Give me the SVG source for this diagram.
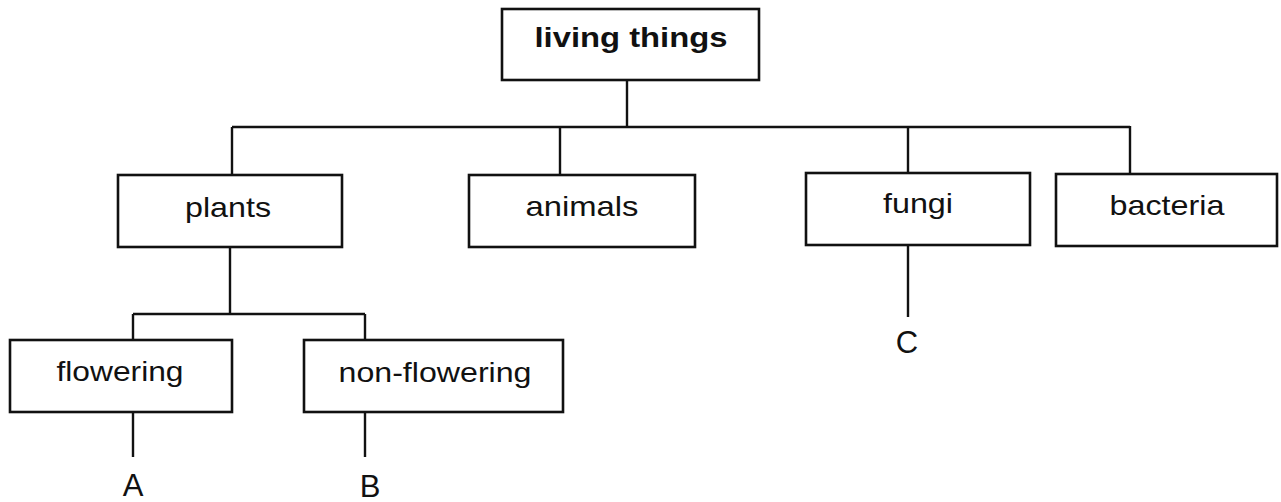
<svg xmlns="http://www.w3.org/2000/svg" width="1281" height="502" viewBox="0 0 1281 502">
<style>
.box{fill:#fff;stroke:#111;stroke-width:2.6}
.ln{fill:none;stroke:#111;stroke-width:2.4}
.t{font-family:"Liberation Sans",Arial,sans-serif;font-size:28px;fill:#111;text-anchor:middle}
.b{font-weight:bold}
.L{font-family:"Liberation Sans",Arial,sans-serif;font-size:31px;fill:#111;text-anchor:middle}
</style>
<rect width="1281" height="502" fill="#fff"/>
<g id="connectors">
<path class="ln" d="M627,80 V126 M232,127 H1130 M232,127 V175 M560,127 V175 M908,126 V173 M1130,126 V174"/>
<path class="ln" d="M230,247 V314 M133,314 H365 M133,314 V340 M365,314 V340"/>
<path class="ln" d="M133,412 V457 M365,412 V457 M908,245 V317"/>
</g>
<g id="living-things">
<rect class="box" x="502" y="9" width="257" height="71"/>
<text class="t b" x="631" y="47" textLength="193" lengthAdjust="spacingAndGlyphs">living things</text>
</g>
<g id="plants">
<rect class="box" x="118" y="175" width="224" height="72"/>
<text class="t" x="228" y="217" textLength="86" lengthAdjust="spacingAndGlyphs">plants</text>
</g>
<g id="animals">
<rect class="box" x="469" y="175" width="226" height="72"/>
<text class="t" x="582" y="216" textLength="113" lengthAdjust="spacingAndGlyphs">animals</text>
</g>
<g id="fungi">
<rect class="box" x="806" y="173" width="224" height="72"/>
<text class="t" x="918" y="213" textLength="70" lengthAdjust="spacingAndGlyphs">fungi</text>
</g>
<g id="bacteria">
<rect class="box" x="1056" y="174" width="221" height="72"/>
<text class="t" x="1167" y="215" textLength="115" lengthAdjust="spacingAndGlyphs">bacteria</text>
</g>
<g id="flowering">
<rect class="box" x="10" y="340" width="222" height="72"/>
<text class="t" x="120" y="381" textLength="127" lengthAdjust="spacingAndGlyphs">flowering</text>
</g>
<g id="non-flowering">
<rect class="box" x="304" y="340" width="259" height="72"/>
<text class="t" x="435" y="382" textLength="193" lengthAdjust="spacingAndGlyphs">non-flowering</text>
</g>
<g id="A"><text class="L" x="133" y="496">A</text></g>
<g id="B"><text class="L" x="370" y="497">B</text></g>
<g id="C"><text class="L" x="907" y="353">C</text></g>
</svg>
